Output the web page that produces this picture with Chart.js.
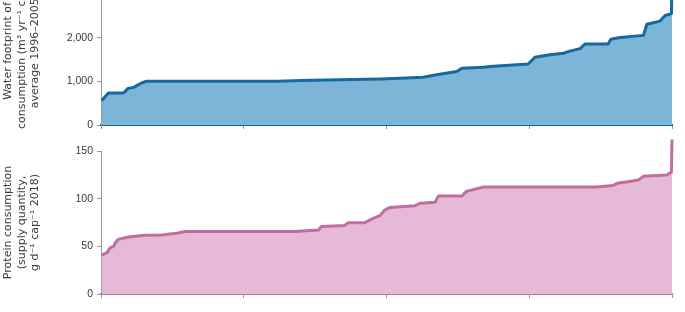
<!DOCTYPE html>
<html>
<head>
<meta charset="utf-8">
<script src="https://cdn.jsdelivr.net/npm/chart.js@4.4.1/dist/chart.umd.min.js"></script>
<style>
    html, body { margin: 0; padding: 0; background: #fff; width: 685px; height: 312px; overflow: hidden; }
    #WaterChart { position: absolute; left: 0; top: -23px; }
    #ProteinChart { position: absolute; left: 0; top: 135px; }
</style>
</head>
<body>
<canvas id="WaterChart" width="685" height="156"></canvas>
<canvas id="ProteinChart" width="685" height="167"></canvas>
<script>
// countries ranked from lowest to highest, position along the axis in %
let waterRank = [0.1, 1.3, 3.9, 4.2, 4.7, 5.7, 7.1, 8.0, 31.0, 34.9, 48.9, 52.4, 56.4, 58.5,
    62.3, 63.2, 67.0, 68.1, 74.8, 76.0, 78.6, 81.0, 82.1, 83.9, 84.8, 88.8, 89.3, 90.9,
    95.0, 95.6, 97.9, 98.8, 99.9, 100];
let waterFootprint = [555, 737, 737, 767, 837, 864, 964, 1006, 1006, 1025, 1057, 1074, 1099, 1148,
    1229, 1303, 1328, 1345, 1401, 1557, 1616, 1648, 1697, 1754, 1862, 1862, 1968, 2010,
    2059, 2313, 2387, 2517, 2559, 3300];

let proteinRank = [0.1, 1.0, 1.6, 2.2, 2.5, 3.0, 4.8, 7.7, 10.6, 13.5, 14.7, 34.0, 38.1, 38.6,
    42.7, 43.3, 46.2, 47.4, 48.9, 49.7, 50.6, 55.0, 55.9, 58.5, 59.1, 63.2, 64.0, 67.0,
    86.8, 89.7, 90.6, 92.3, 94.1, 95.0, 99.1, 99.9, 100];
let proteinSupply = [40.7, 43.2, 48.4, 50, 53.6, 57.3, 59.8, 61.6, 62, 63.9, 65.6, 65.6, 67.2, 70.8,
    71.9, 74.8, 74.8, 78.5, 82.5, 88, 90.8, 92.6, 95.2, 96.3, 102.7, 102.7, 107.6, 112.2,
    112.2, 113.9, 116.5, 117.7, 119.6, 123.4, 124.9, 128, 162];

let rankTicks = [0, 25, 50, 75, 100];
let waterTicks = [0, 1000, 2000, 3000];
let proteinTicks = [0, 50, 100, 150];

let waterTitle = ['Water footprint of', 'consumption (m\u00b3 yr\u207b\u00b9 cap\u207b\u00b9,', 'average 1996\u20132005)'];
let proteinTitle = ['Protein consumption', '(supply quantity,', 'g d\u207b\u00b9 cap\u207b\u00b9 2018)'];

function ToPoints(xs, ys) {
    return xs.map(function (x, i) { return { x: x, y: ys[i] }; });
}

function GetAreaChartConfig(points, lineColor, fillColor, yMax, yTicks, title, topPad) {
    return {
        type: 'line',
        data: {
            datasets: [{
                data: points,
                borderColor: lineColor,
                backgroundColor: fillColor,
                borderWidth: 3,
                borderJoinStyle: 'round',
                fill: 'origin',
                pointRadius: 0,
                tension: 0,
                clip: false
            }]
        },
        options: {
            responsive: false,
            animation: false,
            devicePixelRatio: 1,
            layout: { padding: { top: topPad, right: 13, bottom: 0, left: 0 } },
            plugins: { legend: { display: false }, tooltip: { enabled: false } },
            scales: {
                x: {
                    type: 'linear',
                    min: 0,
                    max: 100,
                    z: 1,
                    afterBuildTicks: function (s) { s.ticks = rankTicks.map(function (v) { return { value: v }; }); },
                    afterFit: function (s) { s.height = 8; s.paddingLeft = 0; s.paddingRight = 0; },
                    ticks: { display: false },
                    grid: { drawOnChartArea: false, tickLength: 4, color: '#9a9a9a' },
                    border: { color: lineColor, width: 2 }
                },
                y: {
                    min: 0,
                    max: yMax,
                    afterBuildTicks: function (s) { s.ticks = yTicks.map(function (v) { return { value: v }; }); },
                    afterFit: function (s) { s.width = 101; s.paddingTop = 0; s.paddingBottom = 0; },
                    ticks: {
                        color: '#3a3a3a',
                        padding: 4,
                        font: { family: 'Liberation Sans', size: 10.5 },
                        callback: function (v) { return v.toLocaleString('en-US'); }
                    },
                    grid: { drawOnChartArea: false, tickLength: 4, color: '#9a9a9a' },
                    border: { color: '#9a9a9a', width: 1 },
                    title: {
                        display: true,
                        text: title,
                        color: '#3a3a3a',
                        font: { family: 'DejaVu Sans', size: 11, lineHeight: 1.2 },
                        padding: { top: 2, bottom: 0 }
                    }
                }
            }
        }
    };
}

window.waterChart = new Chart(document.getElementById('WaterChart').getContext('2d'),
    GetAreaChartConfig(ToPoints(waterRank, waterFootprint), '#1469a0', '#7db5d8', 3400, waterTicks, waterTitle, 0));
window.proteinChart = new Chart(document.getElementById('ProteinChart').getContext('2d'),
    GetAreaChartConfig(ToPoints(proteinRank, proteinSupply), '#c16e9e', '#e6bad6', 150, proteinTicks, proteinTitle, 16));
</script>
</body>
</html>
